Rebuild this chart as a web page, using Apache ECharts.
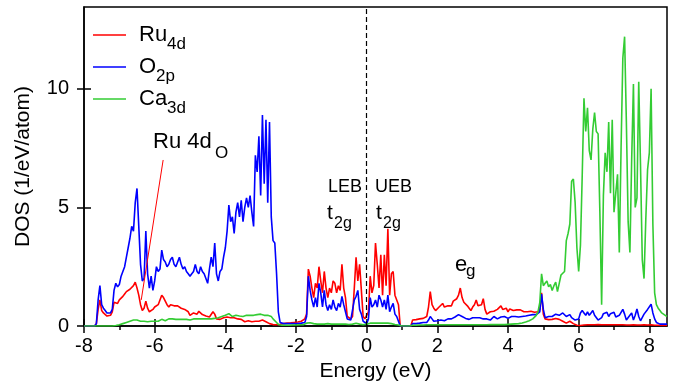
<!DOCTYPE html>
<html>
<head>
<meta charset="utf-8">
<script src="https://cdn.jsdelivr.net/npm/echarts@6.0.0/dist/echarts.min.js"></script>
<style>
  html, body { margin: 0; padding: 0; background: #fff; }
  #dosChart { width: 674px; height: 388px; }
</style>
</head>
<body>
<div id="dosChart"></div>
<script>
const FONT = '"Liberation Sans", Arial, Helvetica, sans-serif';

// energy grid, 0.05 eV steps from -8 to 8.5
const energy = Array.from({ length: 331 }, (_, i) => +(-8 + i * 0.05).toFixed(2));

// one row = 1 eV (20 points)
const ru4d = [
  0, 0, 0, 0, 0, 0, 0, 0.1, 0.7, 1.1, 0.65, 0.55, 0.5, 0.42, 0.38, 0.45, 0.6, 1.0, 0.95, 0.95,
  1.1, 1.15, 1.25, 1.35, 1.45, 1.4, 1.55, 1.6, 1.7, 1.85, 1.6, 1.3, 0.9, 0.65, 0.75, 1.05, 0.75, 0.6, 0.65, 0.7,
  0.8, 0.8, 0.9, 1.1, 1.3, 1.2, 1.05, 0.9, 0.8, 0.9, 0.95, 0.85, 0.8, 0.85, 0.8, 0.75, 0.8, 0.7, 0.65, 0.6,
  0.45, 0.5, 0.55, 0.6, 0.5, 0.62, 0.55, 0.48, 0.5, 0.42, 0.4, 0.38, 0.42, 0.6, 0.5, 0.3, 0.25, 0.28, 0.3, 0.35,
  0.4, 0.38, 0.45, 0.35, 0.4, 0.35, 0.38, 0.3, 0.35, 0.28, 0.2, 0.18, 0.2, 0.22, 0.2, 0.18, 0.22, 0.2, 0.25, 0.2,
  0.22, 0.25, 0.2, 0.18, 0.15, 0.1, 0.08, 0.06, 0.05, 0.05, 0.05, 0.07, 0.08, 0.1, 0.1, 0.12, 0.12, 0.13, 0.15, 0.15,
  0.15, 0.17, 0.18, 0.2, 0.22, 0.3, 0.5, 2.4, 2.1, 1.6, 1.2, 1.8, 1.6, 2.5, 1.9, 1.4, 2.3, 1.6, 1.2, 1.6,
  1.4, 1.9, 1.8, 1.4, 1.7, 1.5, 2.6, 1.6, 1.2, 0.4, 0.35, 0.3, 0.4, 1.6, 2.9, 1.9, 2.6, 1.5, 0.4, 0.3,
  0.3, 0.6, 2.1, 1.4, 1.7, 3.5, 2.6, 1.6, 3.0, 1.3, 3.0, 1.7, 4.1, 1.3, 2.2, 2.3, 1.3, 1.1, 0.9, 0,
  0, 0, 0, 0, 0, 0, 0.25, 0.25, 0.27, 0.28, 0.3, 0.3, 0.32, 0.35, 0.4, 0.8, 1.45, 0.9, 0.75, 0.65,
  0.7, 0.8, 0.85, 0.95, 0.8, 0.85, 0.85, 0.9, 0.85, 1.05, 1.1, 1.15, 1.3, 1.6, 1.2, 1.0, 0.95, 0.85, 0.75, 0.65,
  0.8, 0.9, 1.1, 0.85, 0.85, 0.9, 1.15, 0.7, 0.5, 0.45, 0.6, 0.65, 0.62, 0.65, 0.7, 0.72, 0.85, 0.7, 0.78, 0.75,
  0.6, 0.72, 0.8, 0.65, 0.6, 0.68, 0.62, 0.68, 0.62, 0.6, 0.58, 0.6, 0.58, 0.62, 0.55, 0.58, 0.52, 0.6, 0.7, 1.4,
  0.5, 0.3, 0.28, 0.27, 0.3, 0.28, 0.3, 0.32, 0.35, 0.28, 0.22, 0.2, 0.17, 0.12, 0.1, 0.2, 0.24, 0.1, 0.05, 0.03,
  0.03, 0.02, 0.03, 0.04, 0.03, 0.05, 0.04, 0.05, 0.04, 0.05, 0.05, 0.06, 0.05, 0.05, 0.04, 0.05, 0.04, 0.05, 0.04, 0.05,
  0.04, 0.05, 0.04, 0.05, 0.04, 0.05, 0.05, 0.04, 0.05, 0.04, 0.04, 0.05, 0.04, 0.04, 0.05, 0.04, 0.04, 0.05, 0.04, 0.04,
  0.04, 0.05, 0.04, 0.03, 0.03, 0.03, 0.02, 0.02, 0.02, 0.02, 0.02
];

const o2p = [
  0, 0, 0, 0, 0, 0, 0, 0.1, 1.1, 1.7, 0.9, 0.75, 0.65, 0.55, 0.5, 0.55, 0.7, 1.5, 1.8, 1.65,
  1.75, 2.1, 2.3, 2.5, 2.9, 3.3, 3.7, 4.2, 4.0, 5.2, 5.8, 4.2, 2.6, 1.9, 2.0, 4.0, 2.2, 1.6, 2.1, 1.5,
  1.9, 2.5, 2.3, 2.4, 3.2, 2.8, 2.7, 2.5, 2.6, 2.8, 2.9, 2.6, 2.5, 2.7, 2.9, 2.6, 2.4, 2.5, 2.3, 2.2,
  2.1, 2.2, 2.3, 2.6, 2.3, 2.2, 2.5, 2.3, 2.2, 2.0, 1.8, 2.4, 2.9, 2.5, 3.5, 2.2, 1.9, 2.3, 2.4, 2.9,
  3.3, 4.0, 5.1, 4.4, 4.6, 3.9, 4.8, 5.2, 4.6, 5.3, 4.4, 5.0, 5.4, 5.0, 5.5, 4.8, 4.2, 7.2, 6.5, 8.0,
  5.5, 8.9, 6.0, 8.7, 5.2, 8.6, 4.6, 3.6, 3.5, 2.2, 0.6, 0.15, 0.1, 0.1, 0.1, 0.1, 0.1, 0.1, 0.1, 0.1,
  0.1, 0.1, 0.12, 0.12, 0.13, 0.15, 0.4, 2.1, 1.5, 1.1, 0.8, 1.2, 0.8, 1.8, 1.4, 0.8, 1.5, 0.9, 0.65, 0.9,
  0.7, 1.1, 0.8, 0.65, 0.95, 0.8, 1.25, 0.9, 0.6, 0.3, 0.25, 0.25, 0.3, 1.1, 1.25, 1.5, 0.7, 0.5, 0.2, 0.25,
  0.1, 0.3, 1.2, 0.8, 0.9, 1.1, 0.8, 1.3, 1.1, 0.8, 1.1, 0.7, 1.3, 0.6, 0.8, 0.95, 0.5, 0.4, 0.2, 0,
  0, 0, 0, 0, 0, 0, 0.1, 0.1, 0.1, 0.12, 0.12, 0.12, 0.15, 0.15, 0.15, 0.25, 0.4, 0.3, 0.2, 0.2,
  0.22, 0.22, 0.25, 0.25, 0.22, 0.25, 0.3, 0.32, 0.3, 0.35, 0.38, 0.45, 0.48, 0.5, 0.4, 0.35, 0.32, 0.3, 0.28, 0.3,
  0.35, 0.4, 0.35, 0.38, 0.35, 0.38, 0.3, 0.25, 0.3, 0.28, 0.25, 0.3, 0.4, 0.32, 0.3, 0.35, 0.38, 0.35, 0.4, 0.33,
  0.32, 0.38, 0.4, 0.38, 0.4, 0.4, 0.38, 0.42, 0.4, 0.45, 0.42, 0.4, 0.45, 0.42, 0.48, 0.5, 0.48, 0.55, 0.6, 1.35,
  0.7, 0.35, 0.38, 0.4, 0.38, 0.4, 0.42, 0.5, 0.5, 0.45, 0.48, 0.55, 0.5, 0.4, 0.42, 0.48, 0.35, 0.3, 0.25, 0.25,
  0.3, 0.55, 0.65, 0.55, 0.45, 0.6, 0.45, 0.55, 0.65, 0.45, 0.38, 0.25, 0.18, 0.35, 0.52, 0.45, 0.58, 0.4, 0.52, 0.45,
  0.58, 0.38, 0.3, 0.45, 0.5, 0.7, 0.5, 0.25, 0.3, 0.45, 0.55, 0.25, 0.45, 0.72, 0.4, 0.22, 0.3, 0.5, 0.55, 0.7,
  0.75, 0.92, 0.55, 0.3, 0.15, 0.1, 0.08, 0.08, 0.08, 0.08, 0.08
];

const ca3d = [
  0, 0, 0, 0, 0, 0, 0, 0, 0, 0, 0, 0, 0, 0, 0, 0, 0, 0, 0.02, 0.04,
  0.05, 0.07, 0.1, 0.12, 0.15, 0.18, 0.2, 0.22, 0.25, 0.28, 0.25, 0.22, 0.2, 0.18, 0.2, 0.15, 0.18, 0.15, 0.2, 0.18,
  0.2, 0.22, 0.2, 0.25, 0.28, 0.25, 0.22, 0.28, 0.3, 0.28, 0.3, 0.32, 0.28, 0.3, 0.28, 0.3, 0.28, 0.25, 0.28, 0.25,
  0.25, 0.28, 0.3, 0.28, 0.3, 0.32, 0.3, 0.28, 0.3, 0.28, 0.3, 0.32, 0.3, 0.35, 0.32, 0.3, 0.35, 0.38, 0.4, 0.42,
  0.45, 0.5, 0.52, 0.45, 0.4, 0.42, 0.45, 0.4, 0.42, 0.45, 0.4, 0.42, 0.45, 0.42, 0.45, 0.48, 0.45, 0.5, 0.48, 0.52,
  0.5, 0.55, 0.45, 0.5, 0.45, 0.5, 0.4, 0.3, 0.25, 0.15, 0.06, 0.04, 0.03, 0.03, 0.03, 0.03, 0.03, 0.03, 0.04, 0.04,
  0.04, 0.04, 0.05, 0.05, 0.05, 0.06, 0.12, 0.17, 0.14, 0.12, 0.1, 0.1, 0.08, 0.1, 0.08, 0.1, 0.08, 0.08, 0.1, 0.08,
  0.08, 0.1, 0.08, 0.1, 0.08, 0.1, 0.08, 0.1, 0.08, 0.06, 0.06, 0.06, 0.08, 0.1, 0.12, 0.1, 0.08, 0.06, 0.05, 0.06,
  0.08, 0.1, 0.12, 0.1, 0.12, 0.1, 0.12, 0.1, 0.12, 0.1, 0.12, 0.1, 0.12, 0.1, 0.1, 0.08, 0.06, 0.05, 0.04, 0,
  0, 0, 0, 0, 0, 0, 0.03, 0.03, 0.03, 0.03, 0.04, 0.04, 0.04, 0.04, 0.05, 0.05, 0.05, 0.05, 0.05, 0.05,
  0.05, 0.05, 0.05, 0.05, 0.05, 0.05, 0.05, 0.05, 0.05, 0.05, 0.05, 0.05, 0.05, 0.05, 0.05, 0.05, 0.05, 0.05, 0.05, 0.05,
  0.05, 0.05, 0.05, 0.05, 0.05, 0.05, 0.05, 0.05, 0.05, 0.05, 0.06, 0.06, 0.06, 0.06, 0.06, 0.06, 0.06, 0.06, 0.06, 0.06,
  0.07, 0.07, 0.08, 0.08, 0.09, 0.1, 0.1, 0.12, 0.13, 0.15, 0.17, 0.2, 0.22, 0.25, 0.3, 0.38, 0.45, 0.6, 1.0, 2.2,
  1.7, 1.8, 1.9, 1.65, 1.75, 1.5, 1.7, 1.85, 1.45, 1.8, 2.15, 2.1, 2.3, 3.6, 3.9, 4.3, 6.1, 6.2, 5.2, 3.3,
  2.3, 3.4, 6.3, 9.6, 8.2, 9.2, 7.4, 7.0, 8.3, 9.0, 8.2, 8.1, 4.8, 0.9, 5.5, 7.3, 6.5, 8.6, 5.6, 8.7,
  4.8, 4.8, 6.4, 3.1, 7.5, 11.3, 12.2, 8.6, 4.4, 3.1, 7.0, 10.2, 5.0, 5.4, 10.3, 6.8, 2.8, 2.0, 4.5, 6.6,
  7.3, 10.0, 4.3, 1.4, 0.9, 0.75, 0.65, 0.55, 0.5, 0.45, 0.4
];

const seriesNames = ['Ru4d', 'O2p', 'Ca3d'];
const nameBase = ['Ru', 'O', 'Ca'];
const nameSub = ['4d', '2p', '3d'];
const seriesColors = ['#ff0000', '#0000ff', '#33cc33'];

const xMajorTicks = [-8, -6, -4, -2, 0, 2, 4, 6, 8];
const xMinorTicks = [-7, -5, -3, -1, 1, 3, 5, 7];
const yTicks = [0, 5, 10];

// "Ru 4d_O" pointer, in data coordinates
const pointerLine = [[-5.76, 7.0], [-6.38, 1.1]];

[ru4d, o2p, ca3d].forEach((arr, i) => {
  if (arr.length !== energy.length) throw new Error(seriesNames[i] + ' length ' + arr.length);
});

const dosChart = echarts.init(document.getElementById('dosChart'), null, { renderer: 'canvas' });

function pairs(values) {
  return energy.map((e, i) => [e, values[i]]);
}

function textEl(x, y, text, size) {
  return {
    type: 'text', x: x, y: y, silent: true,
    style: { text: text, font: size + 'px ' + FONT, fill: '#000', textAlign: 'left', textVerticalAlign: 'middle' }
  };
}

const tickLine = { color: '#000', width: 1.5 };

// extra axes only carry tick marks (minor ticks, inward ticks)
function tickAxis(min, max, position, ticks, length, inside) {
  return {
    type: 'value', min: min, max: max, position: position,
    axisLine: { show: false, onZero: false },
    axisTick: { show: true, inside: inside, length: length, customValues: ticks, lineStyle: tickLine },
    axisLabel: { show: false },
    splitLine: { show: false }
  };
}

const option = {
  animation: false,
  grid: { left: 84, right: 7, top: 7, bottom: 62, show: true, borderColor: '#000', borderWidth: 1.5, backgroundColor: 'transparent' },
  legend: {
    orient: 'vertical', left: 93, top: 24, padding: 0, itemGap: 3,
    icon: 'rect', itemWidth: 33, itemHeight: 1.5,
    data: seriesNames,
    formatter: (name) => {
      const i = seriesNames.indexOf(name);
      return '{m|' + nameBase[i] + '}{s|' + nameSub[i] + '}';
    },
    textStyle: {
      rich: {
        m: { fontSize: 22, fontFamily: FONT, color: '#000', padding: [0, 0, 0, 8] },
        s: { fontSize: 17, fontFamily: FONT, color: '#000', padding: [19, 0, 0, 0] }
      }
    }
  },
  xAxis: [
    {
      type: 'value', min: -8, max: 8.5, position: 'bottom',
      name: 'Energy (eV)', nameLocation: 'middle', nameGap: 33,
      nameTextStyle: { fontSize: 21, fontFamily: FONT, color: '#000' },
      axisLine: { show: true, onZero: false, lineStyle: tickLine },
      axisTick: { show: true, length: 7, customValues: xMajorTicks, lineStyle: tickLine },
      axisLabel: { customValues: xMajorTicks, fontSize: 20, fontFamily: FONT, color: '#000', margin: 10 },
      splitLine: { show: false }
    },
    tickAxis(-8, 8.5, 'bottom', xMinorTicks, 4, false),
    tickAxis(-8, 8.5, 'bottom', xMajorTicks, 7, true)
  ],
  yAxis: [
    {
      type: 'value', min: 0, max: 13.45, position: 'left',
      name: 'DOS (1/eV/atom)', nameLocation: 'middle', nameGap: 50,
      nameTextStyle: { fontSize: 21, fontFamily: FONT, color: '#000' },
      axisLine: { show: true, onZero: false, lineStyle: tickLine },
      axisTick: { show: true, length: 7, customValues: yTicks, lineStyle: tickLine },
      axisLabel: { customValues: yTicks, fontSize: 20, fontFamily: FONT, color: '#000', margin: 15 },
      splitLine: { show: false }
    },
    tickAxis(0, 13.45, 'left', yTicks, 7, true)
  ],
  series: [
    {
      name: seriesNames[0], type: 'line', data: pairs(ru4d), color: seriesColors[0],
      showSymbol: false, lineStyle: { width: 1.6 },
      markLine: {
        silent: true, symbol: ['none', 'none'], label: { show: false },
        lineStyle: { color: '#000', type: [5, 3], width: 1.2 },
        data: [{ xAxis: 0 }]
      }
    },
    { name: seriesNames[1], type: 'line', data: pairs(o2p), color: seriesColors[1], showSymbol: false, lineStyle: { width: 1.6 } },
    { name: seriesNames[2], type: 'line', data: pairs(ca3d), color: seriesColors[2], showSymbol: false, lineStyle: { width: 1.6 } },
    {
      name: 'pointer', type: 'line', data: pointerLine, color: '#ff0000',
      showSymbol: false, silent: true, lineStyle: { width: 1 }
    }
  ],
  graphic: [
    textEl(153, 142, 'Ru 4d', 22),
    textEl(215, 153, 'O', 17),
    textEl(328, 187, 'LEB', 18),
    textEl(375, 187, 'UEB', 18),
    textEl(327, 213, 't', 21),
    textEl(334, 224, '2g', 16),
    textEl(376, 213, 't', 21),
    textEl(383, 224, '2g', 16),
    textEl(455, 265, 'e', 22),
    textEl(466, 271, 'g', 17)
  ]
};

dosChart.setOption(option);
</script>
</body>
</html>
